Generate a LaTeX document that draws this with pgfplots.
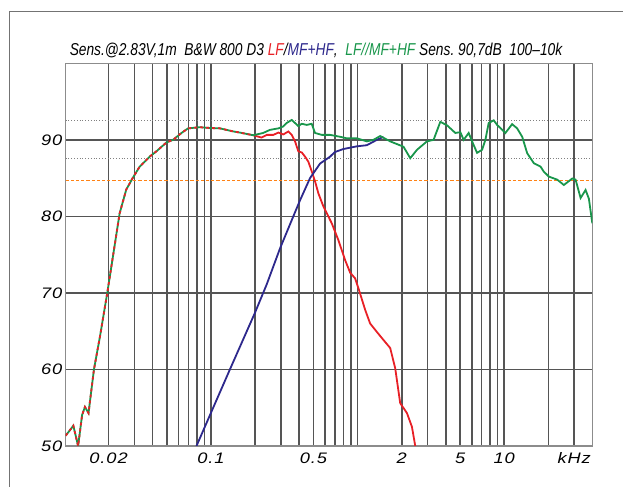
\documentclass[border=0pt]{standalone}
\usepackage{pgfplots}
\pgfplotsset{compat=1.18}
\usepackage{pgfplotstable}
\usepackage{fontspec}
\setmainfont{Liberation Sans}
\newfontfamily\tickfont[FakeStretch=1.2, LetterSpace=6]{Liberation Sans}
\newfontfamily\titlefont[FakeStretch=0.8]{Liberation Sans}

\definecolor{lfred}{RGB}{232,32,38}
\definecolor{hfblue}{RGB}{45,40,140}
\definecolor{sumgreen}{RGB}{25,150,75}
\definecolor{refline}{RGB}{255,130,20}
\definecolor{gridgray}{RGB}{85,85,85}

% LF and LF//MF+HF coincide below ~0.2 kHz
\pgfplotstableread{
f db
0.0102 51.35
0.0115 52.65
0.0124 50.0
0.0132 54.05
0.0138 55.1
0.0146 54.3
0.0159 60.0
0.0174 64.1
0.0196 70.0
0.0238 80.4
0.0264 83.5
0.0294 85.1
0.0326 86.5
0.0381 87.8
0.0424 88.5
0.0496 89.65
0.0551 90.0
0.0629 90.9
0.0698 91.5
0.0838 91.65
0.098 91.55
0.115 91.5
0.1416 91.1
0.1574 90.95
0.194 90.6
}\sharedlow

\pgfplotstableread{
f db
0.194 90.6
0.221 90.3
0.240 90.65
0.266 90.65
0.288 90.95
0.311 90.7
0.337 91.1
0.355 90.65
0.374 89.8
0.394 88.5
0.416 88.35
0.438 87.8
0.461 87.15
0.486 85.9
0.512 84.6
0.540 83.0
0.584 81.3
0.666 79.1
0.739 76.9
0.821 74.3
0.889 72.65
0.961 71.9
1.013 70.6
1.125 67.8
1.217 66.0
1.353 64.9
1.501 63.85
1.668 62.8
1.805 60.15
1.952 55.6
2.170 54.3
2.347 52.5
2.472 50
}\lfhigh

\pgfplotstableread{
f db
0.0796 50.0
0.0997 54.3
0.1345 60.0
0.1993 67.4
0.2396 71.1
0.2953 75.8
0.3641 80.0
0.4046 82.1
0.4735 85.0
0.5542 86.9
0.6486 87.8
0.6977 88.4
0.7995 88.8
0.9874 89.15
1.156 89.3
1.353 90.0
1.501 90.4
}\mfhf

\pgfplotstableread{
f db
0.194 90.6
0.227 90.9
0.252 91.3
0.288 91.5
0.311 91.75
0.328 92.2
0.355 92.6
0.374 92.2
0.394 91.8
0.416 92.1
0.450 91.95
0.486 92.1
0.512 90.9
0.569 90.65
0.649 90.65
0.759 90.4
0.844 90.2
0.987 90.2
1.156 89.8
1.282 90.0
1.425 90.5
1.668 89.8
2.056 89.1
2.285 87.6
2.540 88.7
2.972 89.8
3.297 90.0
3.664 92.35
4.072 91.9
4.638 90.9
5.019 91.0
5.287 90.0
5.721 90.9
6.035 89.8
6.527 88.3
7.063 88.7
7.439 90.0
7.834 92.2
8.476 92.55
8.943 91.95
10.19 90.9
11.32 92.05
12.25 91.5
13.26 90.4
14.34 88.25
15.91 86.95
17.68 86.5
18.62 85.85
20.15 85.2
22.99 84.8
25.51 84.1
29.12 84.95
30.67 84.8
33.19 82.4
35.89 83.45
37.81 82.3
39.88 79.1
}\sumhigh

\begin{document}
\begin{tikzpicture}
\path[use as bounding box] (0,0) rectangle (311.5pt,243.5pt);
\draw[black!55, line width=0.6pt] (312pt,237.75pt) -- (4.75pt,237.75pt) -- (4.75pt,-1pt);

\node[font=\titlefont\itshape\fontsize{8.6}{9}\selectfont, anchor=center] at (158pt,218.5pt)
  {Sens.@2.83V,1m\ \ B\&W 800 D3 \textcolor{lfred}{LF}/\textcolor{hfblue}{MF+HF},\ \ \textcolor{sumgreen}{LF//MF+HF} Sens.\ 90,7dB\ \ 100–10k};

\begin{axis}[
    at={(32.85pt,20.5pt)}, anchor=south west,
    scale only axis,
    width=263.4pt, height=191.35pt,
    xmode=log,
    xmin=0.0102, xmax=40,
    ymin=50, ymax=100,
    xtick={0.02,0.1,0.5,2,5,10,30},
    xticklabels={0.02,0.1,0.5,2,5,10,kHz},
    minor xtick={0.02,0.03,0.04,0.05,0.06,0.07,0.08,0.09,0.1,0.2,0.3,0.4,0.5,0.6,0.7,0.8,0.9,1,2,3,4,5,6,7,8,9,10,20,30},
    ytick={50,60,70,80,90},
    yticklabels={50,60,70,80,90},
    major tick length=0pt, minor tick length=0pt,
    xmajorgrids, xminorgrids, ymajorgrids,
    major grid style={gridgray, line width=0.8pt},
    minor grid style={gridgray, line width=0.8pt},
    axis line style={black!45, line width=0.6pt},
    tick label style={font=\tickfont\itshape\fontsize{7.6}{8}\selectfont, inner sep=0pt},
    xticklabel style={anchor=base, yshift=-9pt},
    yticklabel style={xshift=-1.5pt, anchor=east},
    clip=true,
]
\addplot[black!50, line width=0.4pt, densely dotted] coordinates {(0.0102,92.5) (40,92.5)};
\addplot[black!50, line width=0.4pt, densely dotted] coordinates {(0.0102,87.6) (40,87.6)};
\addplot[refline, line width=0.8pt, dash pattern=on 1.6pt off 1pt] coordinates {(0.0102,84.7) (40,84.7)};

\addplot[lfred, line width=0.9pt] table[x=f, y=db] {\lfhigh};
\addplot[hfblue, line width=0.9pt] table[x=f, y=db] {\mfhf};
\addplot[sumgreen, line width=0.9pt] table[x=f, y=db] {\sumhigh};
\addplot[sumgreen, line width=0.9pt] table[x=f, y=db] {\sharedlow};
\addplot[lfred, line width=0.9pt, dash pattern=on 1.5pt off 1.5pt] table[x=f, y=db] {\sharedlow};

\node[font=\tickfont\itshape\fontsize{7.6}{8}\selectfont, anchor=east, inner sep=0pt] at (axis cs:0.0102,98.76) {dB};
\end{axis}
\end{tikzpicture}
\end{document}
